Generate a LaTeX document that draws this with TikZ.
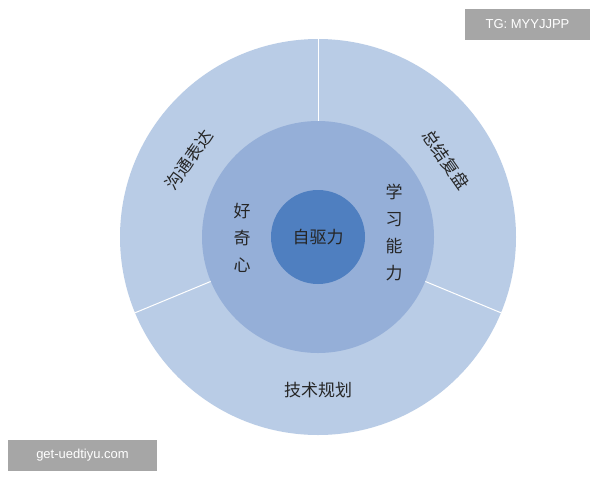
\documentclass[tikz,border=0pt]{standalone}
\usepackage{fontspec}
\newfontfamily\cjk{Noto Sans CJK SC}
\setsansfont{Liberation Sans}
\definecolor{outerc}{HTML}{B9CCE6}
\definecolor{midc}{HTML}{95AFD8}
\definecolor{innerc}{HTML}{4F7FC0}
\definecolor{wm}{HTML}{A6A6A6}
\begin{document}
\begin{tikzpicture}[x=1pt,y=-1pt,
  lbl/.style={font=\cjk\fontsize{17}{20}\selectfont, text=black!85},
  vlbl/.style={lbl, align=center, font=\cjk\fontsize{17}{27}\selectfont},
  wmbox/.style={fill=wm, text=white, font=\sffamily\fontsize{13}{15}\selectfont, inner sep=0pt, minimum height=31pt}]
\useasboundingbox (0,0) rectangle (600,480);
\fill[white] (0,0) rectangle (600,480);
\coordinate (c) at (318,237);
\node[circle, fill=outerc, minimum size=396pt, inner sep=0pt] (outer) at (c) {};
\draw[white, line width=1pt] (c) -- ++(0,-198);
\draw[white, line width=1pt] (c) -- ++(157.5:198);
\draw[white, line width=1pt] (c) -- ++(22.5:198);
\node[circle, fill=midc, minimum size=232pt, inner sep=0pt] (mid) at (c) {};
\node[circle, fill=innerc, minimum size=94pt, inner sep=0pt] (inner) at (c) {};
\node[lbl] (zql) at (c) {自驱力};
\node[vlbl] (hqx) at (242,238) {好\\奇\\心};
\node[vlbl] (xxnl) at (394,232) {学\\习\\能\\力};
\node[lbl, rotate=55] (gtbd) at (189,160) {沟通表达};
\node[lbl, rotate=-55] (zjfp) at (446,160) {总结复盘};
\node[lbl] (jsgh) at (318,390) {技术规划};
\node[wmbox, minimum width=125pt] (tg) at (527.5,24) {TG: MYYJJPP};
\node[wmbox, minimum width=149pt] (web) at (82.5,455) {get-uedtiyu.com};
\end{tikzpicture}
\end{document}
